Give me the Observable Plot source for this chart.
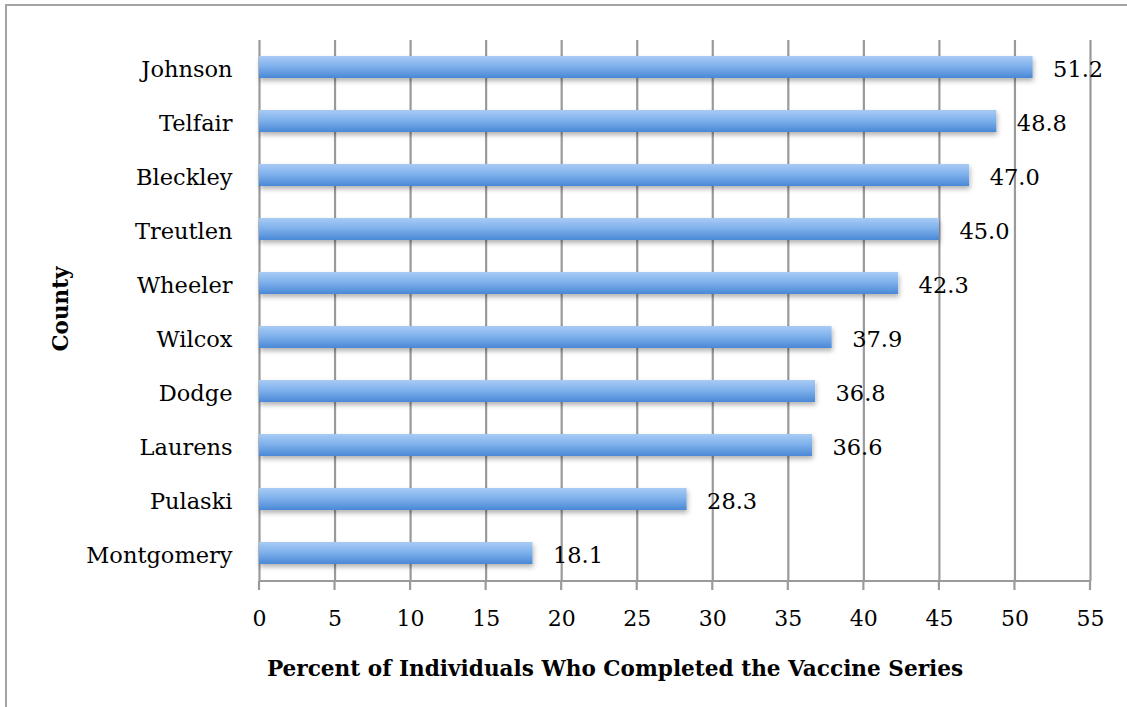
<!DOCTYPE html>
<html>
<head>
<meta charset="utf-8">
<script src="https://cdn.jsdelivr.net/npm/d3@7"></script>
<script src="https://cdn.jsdelivr.net/npm/@observablehq/plot@0.6"></script>
<style>
  html, body { margin: 0; padding: 0; background: #fff; width: 1127px; height: 707px; overflow: hidden; }
  #frame { position: absolute; left: 5px; top: 4px; width: 1140px; height: 720px; border: 2px solid #a3a3a3; box-sizing: border-box; }
  #chart { position: absolute; left: 0; top: 0; }
  svg { font-family: "DejaVu Serif", serif; }
</style>
</head>
<body>
<div id="frame"></div>
<div id="chart"></div>
<script>
const counties = ["Johnson", "Telfair", "Bleckley", "Treutlen", "Wheeler", "Wilcox", "Dodge", "Laurens", "Pulaski", "Montgomery"];
const percents = [51.2, 48.8, 47.0, 45.0, 42.3, 37.9, 36.8, 36.6, 28.3, 18.1];
const xTicks = [0, 5, 10, 15, 20, 25, 30, 35, 40, 45, 50, 55];
const xLabel = "Percent of Individuals Who Completed the Vaccine Series";
const yLabel = "County";

const data = counties.map((c, i) => ({county: c, value: percents[i]}));

const plot = Plot.plot({
  width: 1127,
  height: 707,
  marginLeft: 259,
  marginRight: 37,
  marginTop: 40,
  marginBottom: 126,
  style: {fontFamily: "DejaVu Serif, serif", fontSize: "22px", color: "#000", background: "transparent"},
  x: {domain: [0, 55], ticks: xTicks, tickSize: 0, label: null},
  y: {domain: counties, paddingInner: 0.59, paddingOuter: 0.3, label: null},
  marks: [
    Plot.ruleX(xTicks, {stroke: "#9a9a9a", strokeWidth: 2.2, strokeOpacity: 1}),
    Plot.barX(data, {y: "county", x: "value", fill: "url(#barGrad)"}),
    Plot.text(data, {y: "county", x: "value", text: d => d.value.toFixed(1), textAnchor: "start", dx: 20, dy: 2, fontSize: 22.5, fill: "#000"}),
    Plot.axisX(xTicks, {tickSize: 0, tickPadding: 29, fontSize: 22, fill: "#000", label: null}),
    Plot.axisY({tickSize: 0, tickPadding: 27, dy: 2, fontSize: 22.5, fill: "#000", label: null})
  ]
});

const svg = d3.select(plot);
const defs = svg.insert("defs", ":first-child");
const grad = defs.append("linearGradient").attr("id", "barGrad").attr("x1", 0).attr("y1", 0).attr("x2", 0).attr("y2", 1);
grad.append("stop").attr("offset", "0%").attr("stop-color", "#a9cbf5");
grad.append("stop").attr("offset", "45%").attr("stop-color", "#80b2ec");
grad.append("stop").attr("offset", "100%").attr("stop-color", "#4a88d6");
const f = defs.append("filter").attr("id", "shadow").attr("x", "-5%").attr("y", "-30%").attr("width", "115%").attr("height", "190%");
f.append("feDropShadow").attr("dx", 1).attr("dy", 3).attr("stdDeviation", 2.5).attr("flood-color", "#000").attr("flood-opacity", 0.3);
svg.selectAll("g[aria-label='bar']").attr("filter", "url(#shadow)");

// axis line along bottom and tick marks
const xs = plot.scale("x");
const bottom = 581;
const g = svg.append("g").attr("stroke", "#9a9a9a").attr("stroke-width", 2.2);
g.append("line").attr("x1", xs.apply(0)).attr("x2", xs.apply(55)).attr("y1", bottom).attr("y2", bottom);
xTicks.forEach(t => {
  g.append("line").attr("x1", xs.apply(t)).attr("x2", xs.apply(t)).attr("y1", bottom).attr("y2", bottom + 9);
});

// axis titles
svg.append("text").attr("x", 615).attr("y", 670)
  .attr("text-anchor", "middle").attr("dominant-baseline", "middle")
  .attr("font-weight", "bold").attr("font-size", 21.6).attr("fill", "#000").text(xLabel);
svg.append("text").attr("transform", "translate(62,309) rotate(-90)")
  .attr("text-anchor", "middle").attr("dominant-baseline", "middle")
  .attr("font-weight", "bold").attr("font-size", 21.5).attr("fill", "#000").text(yLabel);

document.getElementById("chart").appendChild(plot);
</script>
</body>
</html>
